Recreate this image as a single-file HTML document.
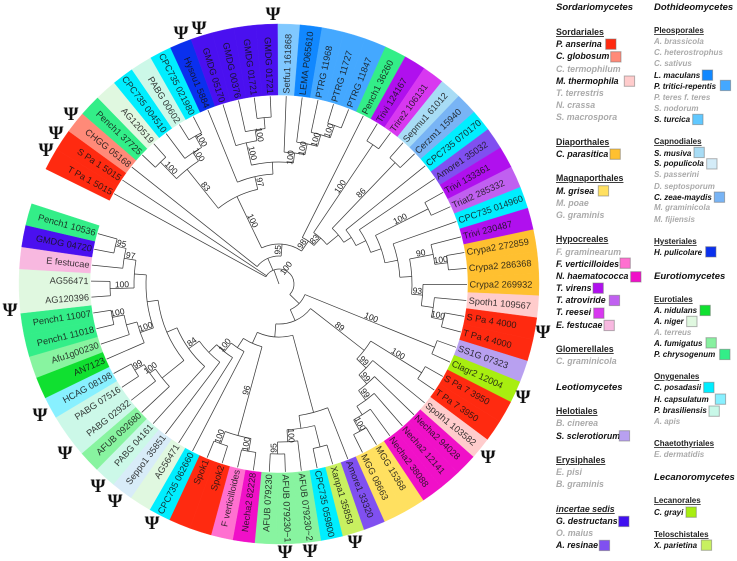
<!DOCTYPE html>
<html lang="en">
<head>
<meta charset="utf-8">
<title>Circular phylogenetic tree</title>
<style>
html,body{margin:0;padding:0;background:#fff;width:737px;height:561px;overflow:hidden}
svg{display:block;font-family:"Liberation Sans",Arial,sans-serif;filter:blur(0.3px)}
.h{font-size:9.5px;font-weight:bold;font-style:italic;fill:#111}
.o{font-size:8.8px;font-weight:bold;fill:#222;text-decoration:underline}
.or{font-size:8px;font-weight:bold;fill:#222;text-decoration:underline}
.s{font-size:8.8px;font-weight:bold;font-style:italic;fill:#111}
.g{font-size:8.8px;font-weight:bold;font-style:italic;fill:#aaa}
.sr{font-size:8px;font-weight:bold;font-style:italic;fill:#111}
.gr{font-size:8px;font-weight:bold;font-style:italic;fill:#aaa}
.psi{font-family:"Liberation Serif",serif;font-size:19px;font-weight:bold;fill:#111;text-anchor:middle}
.sw{stroke:#777;stroke-opacity:.55;stroke-width:1}
</style>
</head>
<body>
<svg id="chart" xmlns="http://www.w3.org/2000/svg" width="737" height="561" viewBox="0 0 737 561">
<g id="wedges"></g>
<g id="branches" fill="none" stroke="#3c3c3c" stroke-width="0.75"></g>
<g id="tiplabels"></g>
<g id="support"></g>

<g>
<text class="psi" x="46" y="156">Ψ</text>
<text class="psi" x="56" y="139">Ψ</text>
<text class="psi" x="71" y="120">Ψ</text>
<text class="psi" x="181" y="39">Ψ</text>
<text class="psi" x="199" y="34">Ψ</text>
<text class="psi" x="273" y="20">Ψ</text>
<text class="psi" x="10" y="316">Ψ</text>
<text class="psi" x="40" y="421">Ψ</text>
<text class="psi" x="65" y="459">Ψ</text>
<text class="psi" x="98" y="492">Ψ</text>
<text class="psi" x="115" y="507">Ψ</text>
<text class="psi" x="152" y="529">Ψ</text>
<text class="psi" x="285" y="558">Ψ</text>
<text class="psi" x="310" y="557">Ψ</text>
<text class="psi" x="355" y="548">Ψ</text>
<text class="psi" x="488" y="463">Ψ</text>
<text class="psi" x="523" y="403">Ψ</text>
<text class="psi" x="543" y="338">Ψ</text>
</g>

<g>
<text class="h" x="556" y="10">Sordariomycetes</text>
<text class="o" x="556" y="35">Sordariales</text>
<text class="s" x="556" y="47">P. anserina</text>
<rect class="sw" x="605.7" y="39" width="10.3" height="10.3" fill="#ff2a10"/>
<text class="s" x="556" y="59">C. globosum</text>
<rect class="sw" x="610.7" y="51.7" width="10.3" height="10.3" fill="#ff8a78"/>
<text class="g" x="556" y="72">C. termophilum</text>
<text class="s" x="556" y="84">M. thermophila</text>
<rect class="sw" x="624.3" y="76" width="10.3" height="10.3" fill="#ffcccc"/>
<text class="g" x="556" y="96">T. terrestris</text>
<text class="g" x="556" y="108">N. crassa</text>
<text class="g" x="556" y="120">S. macrospora</text>
<text class="o" x="556" y="145">Diaporthales</text>
<text class="s" x="556" y="157">C. parasitica</text>
<rect class="sw" x="610" y="149" width="10.3" height="10.3" fill="#ffc030"/>
<text class="o" x="556" y="181">Magnaporthales</text>
<text class="s" x="556" y="194">M. grisea</text>
<rect class="sw" x="598.3" y="185.7" width="10.3" height="10.3" fill="#ffe060"/>
<text class="g" x="556" y="206">M. poae</text>
<text class="g" x="556" y="218">G. graminis</text>
<text class="o" x="556" y="242">Hypocreales</text>
<text class="g" x="556" y="255">F. graminearum</text>
<text class="s" x="556" y="267">F. verticilloides</text>
<rect class="sw" x="620" y="258" width="10.3" height="10.3" fill="#ff70d0"/>
<text class="s" x="556" y="279">N. haematococca</text>
<rect class="sw" x="630.7" y="271.7" width="10.3" height="10.3" fill="#f010c8"/>
<text class="s" x="556" y="291">T. virens</text>
<rect class="sw" x="593" y="283" width="10.3" height="10.3" fill="#b010ee"/>
<text class="s" x="556" y="303">T. atroviride</text>
<rect class="sw" x="609.3" y="295.3" width="10.3" height="10.3" fill="#c060f0"/>
<text class="s" x="556" y="315">T. reesei</text>
<rect class="sw" x="593.7" y="308" width="10.3" height="10.3" fill="#d838f0"/>
<text class="s" x="556" y="328">E. festucae</text>
<rect class="sw" x="604" y="320.3" width="10.3" height="10.3" fill="#f8b8e0"/>
<text class="o" x="556" y="352">Glomerellales</text>
<text class="g" x="556" y="364">C. graminicola</text>
<text class="h" x="556" y="390">Leotiomycetes</text>
<text class="o" x="556" y="414">Helotiales</text>
<text class="g" x="556" y="426">B. cinerea</text>
<text class="s" x="556" y="439">S. sclerotiorum</text>
<rect class="sw" x="619.3" y="430.7" width="10.3" height="10.3" fill="#b8a0f0"/>
<text class="o" x="556" y="463">Erysiphales</text>
<text class="g" x="556" y="475">E. pisi</text>
<text class="g" x="556" y="487">B. graminis</text>
<text class="o" x="556" y="512" font-style="italic">incertae sedis</text>
<text class="s" x="556" y="524">G. destructans</text>
<rect class="sw" x="618.7" y="516.3" width="10.3" height="10.3" fill="#4010f0"/>
<text class="g" x="556" y="536">O. maius</text>
<text class="s" x="556" y="548">A. resinae</text>
<rect class="sw" x="599.3" y="540.3" width="10.3" height="10.3" fill="#8050f0"/>
</g>

<g>
<text class="h" x="654" y="10">Dothideomycetes</text>
<text class="or" x="654" y="33">Pleosporales</text>
<text class="gr" x="654" y="44">A. brassicola</text>
<text class="gr" x="654" y="55">C. heterostrophus</text>
<text class="gr" x="654" y="66">C. sativus</text>
<text class="sr" x="654" y="78">L. maculans</text>
<rect class="sw" x="702.3" y="70" width="10.3" height="10.3" fill="#1188ff"/>
<text class="sr" x="654" y="89">P. tritici-repentis</text>
<rect class="sw" x="720.3" y="80.3" width="10.3" height="10.3" fill="#44a8ff"/>
<text class="gr" x="654" y="100">P. teres f. teres</text>
<text class="gr" x="654" y="111">S. nodorum</text>
<text class="sr" x="654" y="122">S. turcica</text>
<rect class="sw" x="692.7" y="114.3" width="10.3" height="10.3" fill="#60c8ff"/>
<text class="or" x="654" y="144">Capnodiales</text>
<text class="sr" x="654" y="156">S. musiva</text>
<rect class="sw" x="694" y="147.3" width="10.3" height="10.3" fill="#a8dcf5"/>
<text class="sr" x="654" y="166">S. populicola</text>
<rect class="sw" x="706.7" y="158.7" width="10.3" height="10.3" fill="#d4ecf8"/>
<text class="gr" x="654" y="177">S. passerini</text>
<text class="gr" x="654" y="189">D. septosporum</text>
<text class="sr" x="654" y="200">C. zeae-maydis</text>
<rect class="sw" x="714.3" y="192" width="10.3" height="10.3" fill="#78b4f5"/>
<text class="gr" x="654" y="210">M. graminicola</text>
<text class="gr" x="654" y="222">M. fijiensis</text>
<text class="or" x="654" y="244">Hysteriales</text>
<text class="sr" x="654" y="255">H. pulicolare</text>
<rect class="sw" x="705.7" y="246.7" width="10.3" height="10.3" fill="#0a30ee"/>
<text class="h" x="654" y="279">Eurotiomycetes</text>
<text class="or" x="654" y="302">Eurotiales</text>
<text class="sr" x="654" y="313">A. nidulans</text>
<rect class="sw" x="700" y="305.3" width="10.3" height="10.3" fill="#10e030"/>
<text class="sr" x="654" y="324">A. niger</text>
<rect class="sw" x="686.7" y="316.3" width="10.3" height="10.3" fill="#e0f8e0"/>
<text class="gr" x="654" y="335">A. terreus</text>
<text class="sr" x="654" y="346">A. fumigatus</text>
<rect class="sw" x="706" y="337.7" width="10.3" height="10.3" fill="#88f0a0"/>
<text class="sr" x="654" y="357">P. chrysogenum</text>
<rect class="sw" x="719.7" y="349.3" width="10.3" height="10.3" fill="#33ee88"/>
<text class="or" x="654" y="379">Onygenales</text>
<text class="sr" x="654" y="390">C. posadasii</text>
<rect class="sw" x="703.7" y="382.3" width="10.3" height="10.3" fill="#00eeff"/>
<text class="sr" x="654" y="402">H. capsulatum</text>
<rect class="sw" x="715.3" y="394" width="10.3" height="10.3" fill="#88f0ff"/>
<text class="sr" x="654" y="413">P. brasiliensis</text>
<rect class="sw" x="709" y="406" width="10.3" height="10.3" fill="#c8f8e8"/>
<text class="gr" x="654" y="424">A. apis</text>
<text class="or" x="654" y="446">Chaetothyriales</text>
<text class="gr" x="654" y="457">E. dermatidis</text>
<text class="h" x="654" y="480">Lecanoromycetes</text>
<text class="or" x="654" y="503">Lecanorales</text>
<text class="sr" x="654" y="515">C. grayi</text>
<rect class="sw" x="686" y="507" width="10.3" height="10.3" fill="#a8ee10"/>
<text class="or" x="654" y="537">Teloschistales</text>
<text class="sr" x="654" y="548">X. parietina</text>
<rect class="sw" x="701.3" y="540" width="10.3" height="10.3" fill="#c8f060"/>
</g>
</svg>

<script>
// Tip names, clockwise around the ring from the gap at upper left.
const tipNames = ["T Pa 1 5015","S Pa 1 5015","CHGG 05168","Pench1 37725","AG120519","CPC735 004510","PABG 00602","CPC735 021980","Hysou1 5884","GMDG 05170","GMDG 00376","GMDG 01721","GMDG 01721","Setfu1 161868","LEMA P065610","PTRG 11968","PTRG 11727","PTRG 11847","Pench1 36260","Trivi 124167","Trire2 106131","Sepmu1 61012","Cerzm1 15940","CPC735 070170","Amore1 35032","Trivi 133361","Triat2 285332","CPC735 014960","Trivi 230487","Crypa2 272859","Crypa2 286368","Crypa2 269932","Spoth1 109567","S Pa 4 4000","T Pa 4 4000","SS1G 07323","Clagr2 12004","S Pa 7 3950","T Pa 7 3950","Spoth1 103582","Necha2 94028","Necha2 12141","Necha2 38088","MGG 15368","MGG 08663","Amore1 33320","Xanpa1 35858","CPC735 059800","AFUB 079230~2","AFUB 079230~1","AFUB 079230","Necha2 82228","F verticilloides","Spok2","Spok1","CPC735 062660","AG56471","Seppo1 35851","PABG 04161","AFUB 092680","PABG 02932","PABG 07516","HCAG 08198","AN7123","Afu1g00230","Pench1 11018","Pench1 11007","AG120396","AG56471","E festucae","GMDG 04720","Pench1 10536"];

// Taxon key of each tip, same order as tipNames.
const tipTaxa = ["anserina","anserina","globosum","chrysogenum","niger","posadasii","brasiliensis","posadasii","pulicolare","destructans","destructans","destructans","destructans","turcica","maculans","tritici","tritici","tritici","chrysogenum","virens","reesei","musiva","zeae","posadasii","resinae","virens","atroviride","posadasii","virens","parasitica","parasitica","parasitica","thermophila","anserina","anserina","sclerotiorum","grayi","anserina","anserina","thermophila","haematococca","haematococca","haematococca","grisea","grisea","resinae","parietina","posadasii","fumigatus","fumigatus","fumigatus","haematococca","verticilloides","anserina","anserina","posadasii","niger","populicola","brasiliensis","fumigatus","brasiliensis","brasiliensis","capsulatum","nidulans","fumigatus","chrysogenum","chrysogenum","niger","niger","festucae","destructans","chrysogenum"];

const taxonColors = {anserina:"#ff2a10",globosum:"#ff8a78",thermophila:"#ffcccc",parasitica:"#ffc030",grisea:"#ffe060",verticilloides:"#ff70d0",haematococca:"#f010c8",virens:"#b010ee",atroviride:"#c060f0",reesei:"#d838f0",festucae:"#f8b8e0",sclerotiorum:"#b8a0f0",destructans:"#4a10f0",resinae:"#8050f0",maculans:"#1188ff",tritici:"#44a8ff",turcica:"#80c8ff",musiva:"#a8dcf5",populicola:"#d8ecf8",zeae:"#78b4f5",pulicolare:"#0a30ee",nidulans:"#10e030",niger:"#e0f8e0",fumigatus:"#88f4a0",chrysogenum:"#33ee88",posadasii:"#00eeff",capsulatum:"#88f0ff",brasiliensis:"#ccf8e8",grayi:"#a8ee10",parietina:"#c8f060"};

// Tree topology: [node depth, support value, ...children]; an integer child is a tip index.
const cladeGmdg = [110,"97",8,[122,"",[145,"100",9,[156,"100",10,[167,"",11,12]]],[132,"100",13,[143,"100",14,[155,"100",15,[168,"100",16,17]]]]]];
const cladeAgCpc = [147,"83",[170,"100",3,4],[157,"100",5,[170,"100",6,7]]];
const cladeDothideo = [97,"100",cladeAgCpc,cladeGmdg];
const cladeSpoth = [144,"93",31,[156,"",32,[168,"100",33,34]]];
const cladeCrypa = [133,"",[157,"90",28,[170,"100",29,30]],cladeSpoth];
const cladeLadder = [52,"98",18,[62,"83",[168,"100",19,20],[77,"",[168,"86",21,22],[86,"",23,[97,"",24,[108,"",[167,"100",25,26],[121,"",27,cladeCrypa]]]]]]];
const cladeTop = [28,"",2,[40,"95",cladeDothideo,cladeLadder]];
const cladeNecha = [108,"89",[168,"100",37,38],[121,"99",39,[133,"99",40,[145,"99",41,[155,"",42,[168,"100",43,44]]]]]];
const cladeAfub = [133,"",45,[146,"",[168,"",46,47],[158,"100",48,[170,"95",49,50]]]];
const cladeEuro = [150,"",59,[157,"100",60,[168,"99",61,62]]];
const cladePench = [147,"100",63,[158,"",64,[170,"100",65,66]]];
const cladeAg = [145,"",[169,"100",67,68],[157,"97",69,[168,"95",70,71]]];
const cladeLeft = [76,"",55,[87,"100",56,[98,"",57,[111,"84",58,[122,"",cladeEuro,[133,"",cladePench,cladeAg]]]]]];
const cladeSpok = [157,"96",[170,"100",51,52],[170,"100",53,54]];
const cladeBottom = [28,"",[168,"100",35,36],[40,"",cladeNecha,[53,"",cladeAfub,[65,"",cladeSpok,cladeLeft]]]];
const treeRoot = [15,"100",0,1,cladeTop,cladeBottom];

// Axis functions: tip index -> angle (deg clockwise from top), polar -> pixels.
const ringCenterX = 279, ringCenterY = 284;
const innerRadius = 189, outerRadius = 260, tipDepth = 188;
const firstTipAngle = -61.3, tipStep = 4.885, rootStubAngle = -20;
function tipAngle(i){ return firstTipAngle + i * tipStep; }
function polarX(a, r){ return ringCenterX + r * Math.sin(a * Math.PI / 180); }
function polarY(a, r){ return ringCenterY - r * Math.cos(a * Math.PI / 180); }
function pt(a, r){ return polarX(a, r).toFixed(2) + " " + polarY(a, r).toFixed(2); }
function arcPath(a0, a1, r){
  const large = Math.abs(a1 - a0) > 180 ? 1 : 0;
  return "A" + r + " " + r + " 0 " + large + " " + (a1 > a0 ? 1 : 0) + " " + pt(a1, r);
}
function textRotation(a){
  const n = ((a % 360) + 360) % 360;
  return n < 180 ? n - 90 : n + 90;
}
function isLeftSide(a){
  const n = ((a % 360) + 360) % 360;
  return n >= 180;
}

const NS = "http://www.w3.org/2000/svg";
const wedgeLayer = document.getElementById("wedges");
const branchLayer = document.getElementById("branches");
const tipLayer = document.getElementById("tiplabels");
const supportLayer = document.getElementById("support");

function addBranch(d){
  const p = document.createElementNS(NS, "path");
  p.setAttribute("d", d);
  
  
  branchLayer.appendChild(p);
}

tipNames.forEach(function(name, i){
  const a = tipAngle(i), h = tipStep / 2;
  const w = document.createElementNS(NS, "path");
  w.setAttribute("d", "M" + pt(a - h, innerRadius) + arcPath(a - h, a + h, innerRadius) + "L" + pt(a + h, outerRadius) + arcPath(a + h, a - h, outerRadius) + "Z");
  w.setAttribute("fill", taxonColors[tipTaxa[i]]);
  w.setAttribute("stroke", taxonColors[tipTaxa[i]]);
  w.setAttribute("stroke-width", "0.4");
  
  
  wedgeLayer.appendChild(w);

  const t = document.createElementNS(NS, "text");
  const left = isLeftSide(a);
  t.setAttribute("transform", "translate(" + polarX(a, innerRadius + 1.5).toFixed(2) + " " + polarY(a, innerRadius + 1.5).toFixed(2) + ") rotate(" + textRotation(a).toFixed(2) + ")");
  t.setAttribute("text-anchor", left ? "end" : "start");
  t.setAttribute("dominant-baseline", "central");
  t.setAttribute("font-size", "9.2");
  t.setAttribute("fill", "#141414");
  t.setAttribute("fill-opacity", "0.85");
  
  
  t.textContent = name;
  tipLayer.appendChild(t);
});

function addSupport(text, a, r){
  const t = document.createElementNS(NS, "text");
  const rot = textRotation(a);
  const up = rot * Math.PI / 180;
  const x = polarX(a, r) + 4 * Math.sin(up);
  const y = polarY(a, r) - 4 * Math.cos(up);
  t.setAttribute("transform", "translate(" + x.toFixed(2) + " " + y.toFixed(2) + ") rotate(" + rot.toFixed(2) + ")");
  t.setAttribute("text-anchor", "middle");
  t.setAttribute("dominant-baseline", "central");
  t.setAttribute("font-size", "8.5");
  t.setAttribute("fill", "#222");
  
  
  t.textContent = text;
  supportLayer.appendChild(t);
}

// Recursively draw a clade; returns the clade's angle.
function drawNode(node, parentDepth){
  if (typeof node === "number"){
    const a = tipAngle(node);
    addBranch("M" + pt(a, parentDepth) + "L" + pt(a, tipDepth));
    return a;
  }
  const depth = node[0], label = node[1], kids = node.slice(2);
  const angles = kids.map(function(k){ return drawNode(k, depth); });
  const a0 = angles[0], a1 = angles[angles.length - 1];
  const mid = (a0 + a1) / 2;
  addBranch("M" + pt(a0, depth) + arcPath(a0, a1, depth));
  if (parentDepth > 0){
    addBranch("M" + pt(mid, parentDepth) + "L" + pt(mid, depth));
    if (label) addSupport(label, mid, (parentDepth + depth) / 2);
  } else if (label){
    addSupport(label, mid, depth + 2);
  }
  return mid;
}
drawNode(treeRoot, 0);
addBranch("M" + pt(rootStubAngle, 0) + "L" + pt(rootStubAngle, treeRoot[0]));
</script>
</body>
</html>
